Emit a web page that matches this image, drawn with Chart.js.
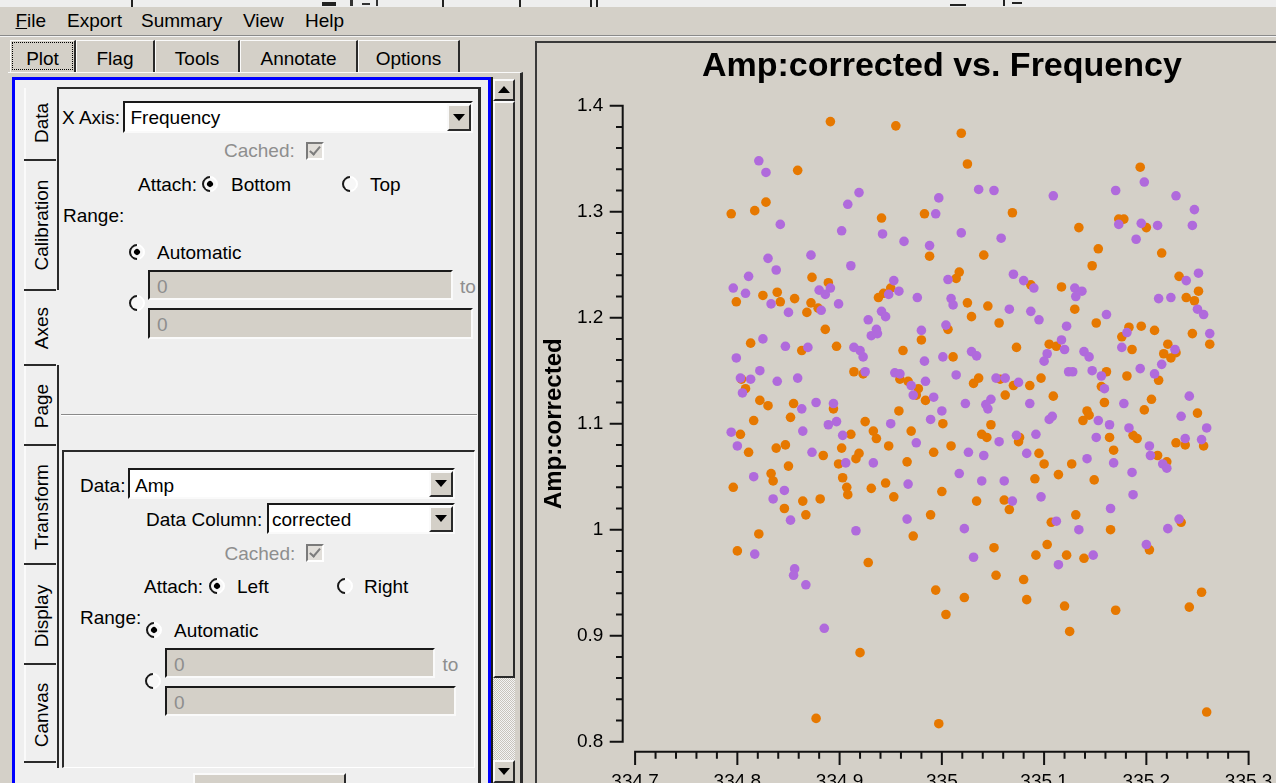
<!DOCTYPE html>
<html>
<head>
<meta charset="utf-8">
<script src="https://cdn.jsdelivr.net/npm/chart.js@4/dist/chart.umd.min.js"></script>
<style>
html,body{margin:0;padding:0;}
body{width:1276px;height:783px;overflow:hidden;position:relative;background:#d4d0c8;font-family:"Liberation Sans",Arial,sans-serif;}
.a{position:absolute;}
.t{position:absolute;font-size:19px;line-height:19px;white-space:nowrap;color:#000;}
.g{color:#8e8e8e;}
.sunk{position:absolute;box-sizing:border-box;border:2px solid;border-color:#1a1a1a #fafafa #fafafa #1a1a1a;}
.raised{position:absolute;box-sizing:border-box;border:2px solid;border-color:#fafafa #2a2a2a #2a2a2a #fafafa;background:#d4d0c8;}
.radio{position:absolute;width:16px;height:16px;box-sizing:border-box;border-radius:50%;border:2px solid;border-color:#1a1a1a #fff #fff #1a1a1a;transform:rotate(-45deg);background:#f7f7f7;}
.radio.on::after{content:"";position:absolute;left:3px;top:3px;width:6px;height:6px;border-radius:50%;background:#000;}
.chk{position:absolute;width:18px;height:18px;box-sizing:border-box;border:2px solid;border-color:#7a7a7a #fff #fff #7a7a7a;background:#e2dfda;}
.chk::after{content:"";position:absolute;left:4px;top:0px;width:4px;height:9px;border:solid #7d7d7d;border-width:0 2px 2px 0;transform:rotate(40deg);}
.arrow-d{position:absolute;width:0;height:0;border-left:6px solid transparent;border-right:6px solid transparent;border-top:7px solid #000;}
.arrow-u{position:absolute;width:0;height:0;border-left:6px solid transparent;border-right:6px solid transparent;border-bottom:7px solid #000;}
.vt{position:absolute;font-size:19px;line-height:19px;white-space:nowrap;transform:translate(-50%,-50%) rotate(-90deg);}
.tab{position:absolute;top:40px;height:32px;box-sizing:border-box;border-top:1px solid #fafafa;border-left:1px solid #fafafa;border-right:2px solid #2a2a2a;font-size:19px;line-height:19px;text-align:center;padding-top:8px;}
.sep{position:absolute;height:2px;background:#2a2a2a;}
</style>
</head>
<body>

<!-- strip left over from the window above -->
<div class="a" style="left:0;top:0;width:1276px;height:7px;background:#eeeeee;"></div>
<div class="a" style="left:131px;top:0;width:2px;height:7px;background:#222;"></div>
<div class="a" style="left:322px;top:2px;width:14px;height:4px;background:#222;"></div>
<div class="a" style="left:350px;top:0;width:3px;height:6px;background:#333;"></div>
<div class="a" style="left:362px;top:3px;width:8px;height:2px;background:#333;"></div>
<div class="a" style="left:376px;top:0;width:2px;height:6px;background:#333;"></div>
<div class="a" style="left:442px;top:0;width:2px;height:7px;background:#222;"></div>
<div class="a" style="left:519px;top:0;width:2px;height:7px;background:#222;"></div>
<div class="a" style="left:590px;top:0;width:2px;height:7px;background:#222;"></div>
<div class="a" style="left:596px;top:0;width:2px;height:7px;background:#222;"></div>
<div class="a" style="left:950px;top:4px;width:16px;height:2px;background:#222;"></div>
<div class="a" style="left:1003px;top:0;width:2px;height:6px;background:#222;"></div>
<div class="a" style="left:1012px;top:2px;width:10px;height:2px;background:#222;"></div>

<!-- menu bar -->
<div class="t" style="left:15.5px;top:11.4px;"><u>F</u>ile</div>
<div class="t" style="left:67px;top:11.4px;">Export</div>
<div class="t" style="left:141px;top:11.4px;">Summary</div>
<div class="t" style="left:243px;top:11.4px;">View</div>
<div class="t" style="left:305px;top:11.4px;">Help</div>
<div class="a" style="left:0;top:35px;width:1276px;height:1px;background:#8a8a8a;"></div>
<div class="a" style="left:0;top:36px;width:1276px;height:1px;background:#f4f4f4;"></div>

<!-- top tab row -->
<div class="tab" style="left:10px;width:66px;">Plot</div>
<div class="a" style="left:12px;top:42px;width:59px;height:26px;border:1px dotted #000;"></div>
<div class="tab" style="left:76px;width:79px;">Flag</div>
<div class="tab" style="left:155px;width:85px;">Tools</div>
<div class="tab" style="left:240px;width:118px;">Annotate</div>
<div class="tab" style="left:358px;width:102px;">Options</div>

<!-- left pane -->
<div class="a" style="left:8px;top:72px;width:515px;height:720px;box-sizing:border-box;border-top:1px solid #fafafa;border-right:3px solid #2a2a2a;background:#d4d0c8;"></div>
<div class="a" style="left:12px;top:77px;width:479px;height:720px;box-sizing:border-box;border:3px solid #0000ff;background:#efefef;"></div>

<!-- vertical page tabs -->
<div class="a" style="left:24px;top:88px;width:2px;height:674px;background:#fafafa;"></div>
<div class="sep" style="left:24px;top:159px;width:32px;"></div>
<div class="sep" style="left:24px;top:289px;width:32px;"></div>
<div class="sep" style="left:24px;top:364px;width:32px;"></div>
<div class="sep" style="left:24px;top:444px;width:32px;"></div>
<div class="sep" style="left:24px;top:563px;width:32px;"></div>
<div class="sep" style="left:24px;top:663px;width:32px;"></div>
<div class="sep" style="left:24px;top:761px;width:32px;"></div>
<div class="vt" style="left:40.6px;top:123px;">Data</div>
<div class="vt" style="left:40.6px;top:225px;">Calibration</div>
<div class="vt" style="left:40.6px;top:327.5px;">Axes</div>
<div class="vt" style="left:40.6px;top:406px;">Page</div>
<div class="vt" style="left:40.6px;top:507px;">Transform</div>
<div class="vt" style="left:40.6px;top:615.5px;">Display</div>
<div class="vt" style="left:40.6px;top:715px;">Canvas</div>

<!-- page frame -->
<div class="a" style="left:57px;top:87px;width:424px;height:2px;background:#2a2a2a;"></div>
<div class="a" style="left:57px;top:87px;width:2px;height:203px;background:#2a2a2a;"></div>
<div class="a" style="left:57px;top:365px;width:2px;height:403px;background:#2a2a2a;"></div>
<div class="a" style="left:478px;top:87px;width:3px;height:696px;background:#2a2a2a;"></div>

<!-- x axis settings -->
<div class="t" style="left:62px;top:107.7px;">X Axis:</div>
<div class="sunk" style="left:123px;top:101px;width:350px;height:32px;background:#fff;"></div>
<div class="t" style="left:130.5px;top:107.7px;">Frequency</div>
<div class="raised" style="left:447px;top:104px;width:24px;height:27px;"></div>
<div class="arrow-d" style="left:453px;top:114px;"></div>
<div class="t g" style="left:224px;top:141.4px;">Cached:</div>
<div class="chk" style="left:306px;top:142px;"></div>
<div class="t" style="left:138px;top:174.7px;">Attach:</div>
<div class="radio on" style="left:202px;top:176px;"></div>
<div class="t" style="left:231px;top:174.7px;">Bottom</div>
<div class="radio" style="left:342px;top:176px;"></div>
<div class="t" style="left:370px;top:174.7px;">Top</div>
<div class="t" style="left:63px;top:205.7px;">Range:</div>
<div class="radio on" style="left:129px;top:244px;"></div>
<div class="t" style="left:157px;top:242.7px;">Automatic</div>
<div class="sunk" style="left:148px;top:270px;width:305px;height:30px;background:#d4d0c8;"></div>
<div class="t g" style="left:157px;top:276.7px;">0</div>
<div class="t g" style="left:460px;top:276.7px;">to</div>
<div class="radio" style="left:128.5px;top:295px;"></div>
<div class="sunk" style="left:148px;top:308px;width:325px;height:31px;background:#d4d0c8;"></div>
<div class="t g" style="left:157px;top:314.7px;">0</div>
<div class="a" style="left:61px;top:414px;width:416px;height:1px;background:#8a8a8a;"></div>
<div class="a" style="left:61px;top:415px;width:416px;height:1px;background:#fff;"></div>

<!-- y axis settings group -->
<div class="a" style="left:62px;top:450px;width:413px;height:318px;box-sizing:border-box;border-top:2px solid #2a2a2a;border-left:2px solid #2a2a2a;border-right:1px solid #fff;border-bottom:1px solid #fff;"></div>
<div class="t" style="left:80px;top:475.7px;">Data:</div>
<div class="sunk" style="left:128px;top:468px;width:327px;height:31px;background:#fff;"></div>
<div class="t" style="left:135px;top:475.7px;">Amp</div>
<div class="raised" style="left:429px;top:471px;width:24px;height:26px;"></div>
<div class="arrow-d" style="left:435px;top:480px;"></div>
<div class="t" style="left:146px;top:509.7px;">Data Column:</div>
<div class="sunk" style="left:267px;top:503px;width:188px;height:31px;background:#fff;"></div>
<div class="t" style="left:272px;top:509.7px;">corrected</div>
<div class="raised" style="left:429px;top:506px;width:24px;height:26px;"></div>
<div class="arrow-d" style="left:435px;top:515px;"></div>
<div class="t g" style="left:224.5px;top:543.7px;">Cached:</div>
<div class="chk" style="left:306px;top:544px;"></div>
<div class="t" style="left:144px;top:576.7px;">Attach:</div>
<div class="radio on" style="left:209px;top:578px;"></div>
<div class="t" style="left:237px;top:576.7px;">Left</div>
<div class="radio" style="left:336.5px;top:578px;"></div>
<div class="t" style="left:364px;top:576.7px;">Right</div>
<div class="t" style="left:80px;top:607.7px;">Range:</div>
<div class="radio on" style="left:145.5px;top:622px;"></div>
<div class="t" style="left:174px;top:620.7px;">Automatic</div>
<div class="sunk" style="left:165px;top:648px;width:270px;height:30px;background:#d4d0c8;"></div>
<div class="t g" style="left:174px;top:654.7px;">0</div>
<div class="t g" style="left:442.5px;top:654.7px;">to</div>
<div class="radio" style="left:145px;top:673px;"></div>
<div class="sunk" style="left:165px;top:686px;width:291px;height:30px;background:#d4d0c8;"></div>
<div class="t g" style="left:174px;top:692.7px;">0</div>
<div class="raised" style="left:193px;top:773px;width:153px;height:20px;"></div>

<!-- scroll bar -->
<div class="a" style="left:491px;top:77px;width:24px;height:706px;box-sizing:border-box;border-left:2px solid #1a1a1a;background:#d4d0c8;"></div>
<div class="raised" style="left:493px;top:79px;width:22px;height:22px;"></div>
<div class="arrow-u" style="left:498px;top:86px;"></div>
<div class="raised" style="left:493px;top:101px;width:22px;height:577px;"></div>
<div class="a" style="left:493px;top:678px;width:22px;height:82px;background:repeating-conic-gradient(#c8c4bc 0 25%, #f4f4f4 0 50%) 0 0/2px 2px;"></div>
<div class="raised" style="left:493px;top:760px;width:22px;height:23px;"></div>
<div class="arrow-d" style="left:498px;top:768px;"></div>

<!-- plot panel -->
<div class="a" style="left:535px;top:41px;width:741px;height:742px;box-sizing:border-box;border-top:2px solid #3a3a3a;border-left:2px solid #3a3a3a;background:#d4d0c8;"></div>
<canvas id="plot" width="736" height="800" style="position:absolute;left:540px;top:44px;width:736px;height:800px;"></canvas>

<script>
// Axis ticks
const xTickLabels = ['334.7', '334.8', '334.9', '335', '335.1', '335.2', '335.3'];
const yTickLabels = ['0.8', '0.9', '1', '1.1', '1.2', '1.3', '1.4'];
const minorDivisions = 5;

// Orange correlation: frequency (GHz) and corrected amplitude
const freqOrange = [
  334.891, 334.955, 335.019, 335.025, 334.859, 334.828, 334.817, 334.794, 334.941, 334.983,
  334.988, 334.873, 334.889, 335.017, 335.014, 334.839, 334.825, 334.799, 334.842, 334.856,
  334.872, 334.868, 334.950, 334.938, 334.943, 335.025, 334.879, 335.194, 335.069, 335.134,
  335.173, 335.178, 335.200, 335.153, 335.041, 335.147, 335.215, 335.232, 335.251, 335.239,
  335.247, 335.087, 335.117, 335.045, 335.130, 335.029, 334.886, 334.813, 334.863, 334.897,
  334.962, 334.980, 335.006, 335.011, 334.914, 334.923, 334.804, 334.808, 334.959, 334.967,
  334.977, 334.975, 334.984, 334.822, 334.830, 334.855, 334.894, 334.852, 334.816, 334.958,
  335.001, 334.925, 334.933, 334.936, 334.970, 334.803, 334.911, 334.847, 334.838, 334.811,
  334.902, 334.884, 334.919, 334.916, 334.899, 334.948, 334.992, 335.009, 334.966, 334.850,
  334.833, 334.835, 334.796, 334.903, 334.907, 334.908, 334.931, 334.945, 334.953, 335.000,
  334.864, 334.881, 334.846, 334.867, 334.989, 334.821, 334.972, 335.056, 335.151, 335.183,
  335.195, 335.208, 335.176, 335.245, 335.262, 335.073, 335.105, 335.112, 335.186, 335.221,
  335.217, 335.229, 335.224, 335.161, 335.181, 335.212, 335.036, 335.031, 335.057, 335.070,
  335.086, 335.097, 335.062, 335.109, 335.156, 335.159, 335.205, 335.198, 335.250, 335.142,
  335.144, 335.138, 335.048, 335.039, 335.044, 335.076, 335.075, 335.164, 335.187, 335.191,
  335.229, 335.238, 335.256, 335.168, 335.095, 335.100, 335.127, 335.211, 335.220, 335.114,
  335.091, 335.149, 335.034, 335.061, 335.066, 335.131, 335.107, 335.165, 335.234, 334.800,
  334.928, 334.994, 335.022, 335.004, 334.920, 334.877, 334.997, 335.051, 335.103, 335.092,
  335.122, 335.139, 335.203, 335.053, 335.080, 335.083, 335.120, 335.170, 335.254, 335.242,
  335.125, 335.259
];
const ampOrange = [
  1.385, 1.381, 1.374, 1.345, 1.339, 1.309, 1.301, 1.298, 1.294, 1.298,
  1.258, 1.238, 1.233, 1.243, 1.237, 1.224, 1.221, 1.215, 1.215, 1.218,
  1.214, 1.205, 1.228, 1.219, 1.223, 1.214, 1.209, 1.342, 1.299, 1.285,
  1.293, 1.293, 1.285, 1.265, 1.259, 1.249, 1.261, 1.239, 1.225, 1.219,
  1.216, 1.231, 1.229, 1.211, 1.208, 1.201, 1.189, 1.176, 1.169, 1.173,
  1.169, 1.179, 1.189, 1.163, 1.149, 1.147, 1.142, 1.133, 1.142, 1.140,
  1.133, 1.127, 1.122, 1.122, 1.117, 1.119, 1.114, 1.106, 1.103, 1.112,
  1.100, 1.102, 1.093, 1.086, 1.093, 1.090, 1.090, 1.080, 1.077, 1.073,
  1.077, 1.070, 1.072, 1.067, 1.062, 1.079, 1.073, 1.079, 1.064, 1.060,
  1.053, 1.046, 1.040, 1.049, 1.040, 1.033, 1.039, 1.044, 1.031, 1.036,
  1.027, 1.029, 1.020, 1.014, 1.014, 0.996, 0.994, 1.195, 1.195, 1.191,
  1.192, 1.188, 1.182, 1.185, 1.175, 1.172, 1.175, 1.173, 1.170, 1.175,
  1.166, 1.167, 1.162, 1.149, 1.145, 1.141, 1.143, 1.138, 1.142, 1.136,
  1.136, 1.143, 1.127, 1.126, 1.135, 1.120, 1.123, 1.113, 1.110, 1.112,
  1.108, 1.103, 1.099, 1.090, 1.087, 1.087, 1.083, 1.087, 1.089, 1.086,
  1.082, 1.080, 1.079, 1.075, 1.072, 1.062, 1.062, 1.070, 1.064, 1.052,
  1.048, 1.047, 1.027, 1.028, 1.019, 1.014, 1.007, 1.000, 1.007, 0.980,
  0.969, 0.943, 0.936, 0.920, 0.884, 0.822, 0.817, 0.983, 0.986, 0.976,
  0.976, 0.973, 0.981, 0.957, 0.953, 0.934, 0.928, 0.924, 0.941, 0.927,
  0.904, 0.828
];

// Purple correlation: frequency (GHz) and corrected amplitude
const freqPurple = [
  334.821, 334.828, 334.919, 334.908, 334.997, 334.994, 334.842, 334.902, 334.942, 334.963,
  334.988, 335.019, 334.830, 334.872, 334.838, 334.911, 334.811, 334.796, 334.808, 334.833,
  334.850, 334.880, 334.891, 334.886, 334.899, 334.882, 334.953, 334.958, 334.948, 334.976,
  334.941, 334.928, 334.945, 335.006, 335.009, 335.011, 335.036, 335.051, 335.109, 335.170,
  335.198, 335.229, 335.247, 335.245, 335.211, 335.195, 335.173, 335.190, 335.058, 335.070,
  335.080, 335.090, 335.130, 335.137, 335.131, 335.251, 335.239, 335.212, 335.224, 335.250,
  335.256, 335.066, 335.087, 335.161, 335.095, 334.936, 334.931, 334.937, 334.825, 334.847,
  334.869, 334.914, 334.920, 334.923, 334.980, 335.004, 334.799, 334.983, 335.001, 335.029,
  335.034, 334.822, 334.925, 334.954, 334.959, 334.803, 334.813, 334.839, 334.859, 334.984,
  335.014, 334.970, 334.972, 334.805, 334.992, 334.877, 334.894, 334.863, 335.023, 335.000,
  334.989, 334.950, 334.889, 334.897, 334.864, 334.903, 334.794, 334.800, 334.975, 335.026,
  334.873, 334.906, 334.933, 334.816, 335.017, 334.967, 334.846, 334.835, 334.852, 334.966,
  334.916, 335.022, 335.122, 335.181, 335.262, 335.117, 335.120, 335.176, 335.103, 335.100,
  335.139, 335.144, 335.228, 335.215, 335.208, 335.194, 335.147, 335.124, 335.128, 335.156,
  335.159, 335.053, 335.062, 335.075, 335.048, 335.043, 335.045, 335.086, 335.178, 335.242,
  335.234, 335.259, 335.105, 335.108, 335.153, 335.164, 335.183, 335.151, 335.092, 335.073,
  335.056, 335.238, 335.254, 335.203, 335.204, 335.041, 335.083, 335.142, 335.168, 335.216,
  335.220, 335.186, 335.039, 335.061, 335.097, 335.187, 335.069, 335.165, 335.112, 335.134,
  335.221, 335.232, 334.817, 334.856, 334.855, 334.867, 334.885, 335.031, 335.114, 335.148,
  335.200
];
const ampPurple = [
  1.348, 1.337, 1.318, 1.307, 1.313, 1.298, 1.288, 1.282, 1.279, 1.272,
  1.268, 1.280, 1.256, 1.259, 1.245, 1.249, 1.239, 1.228, 1.223, 1.213,
  1.205, 1.226, 1.228, 1.222, 1.213, 1.207, 1.235, 1.225, 1.222, 1.219,
  1.206, 1.198, 1.201, 1.236, 1.218, 1.212, 1.321, 1.320, 1.315, 1.320,
  1.328, 1.315, 1.302, 1.287, 1.287, 1.289, 1.288, 1.274, 1.275, 1.241,
  1.235, 1.228, 1.228, 1.225, 1.220, 1.242, 1.235, 1.218, 1.219, 1.208,
  1.203, 1.208, 1.206, 1.203, 1.198, 1.189, 1.183, 1.185, 1.180, 1.173,
  1.172, 1.172, 1.169, 1.163, 1.188, 1.193, 1.162, 1.159, 1.163, 1.168,
  1.164, 1.150, 1.149, 1.148, 1.147, 1.143, 1.142, 1.140, 1.143, 1.140,
  1.146, 1.136, 1.127, 1.129, 1.125, 1.120, 1.119, 1.114, 1.119, 1.112,
  1.104, 1.100, 1.099, 1.102, 1.093, 1.089, 1.092, 1.079, 1.082, 1.073,
  1.073, 1.063, 1.063, 1.050, 1.053, 1.043, 1.037, 1.029, 1.009, 1.010,
  0.999, 1.001, 1.192, 1.186, 1.185, 1.179, 1.170, 1.172, 1.166, 1.159,
  1.168, 1.163, 1.170, 1.156, 1.147, 1.152, 1.150, 1.149, 1.149, 1.145,
  1.133, 1.143, 1.143, 1.139, 1.123, 1.118, 1.114, 1.119, 1.119, 1.126,
  1.107, 1.096, 1.104, 1.107, 1.103, 1.099, 1.096, 1.087, 1.090, 1.089,
  1.083, 1.086, 1.085, 1.079, 1.070, 1.070, 1.072, 1.067, 1.063, 1.062,
  1.058, 1.054, 1.046, 1.046, 1.031, 1.033, 1.027, 1.020, 1.008, 1.000,
  1.001, 1.010, 0.977, 0.963, 0.957, 0.948, 0.907, 0.974, 0.967, 0.976,
  0.986
];

const ORANGE = '#e67800';
const PURPLE = '#b06adc';
const FONT = '"Liberation Sans", Arial, sans-serif';

// Major tick values come from the labels; minor ticks split each interval in five.
function tickValues(labels) {
  const majors = labels.map(Number);
  const out = [];
  for (let i = 0; i < majors.length - 1; i++) {
    const step = (majors[i + 1] - majors[i]) / minorDivisions;
    for (let k = 0; k < minorDivisions; k++) {
      out.push({ value: majors[i] + k * step, qwtMajor: k === 0 });
    }
  }
  out.push({ value: majors[majors.length - 1], qwtMajor: true });
  return out;
}
function labelFor(value, labels) {
  const hit = labels.find(l => Math.abs(Number(l) - value) < 1e-6);
  return hit === undefined ? '' : hit;
}
const xMin = Number(xTickLabels[0]), xMax = Number(xTickLabels[xTickLabels.length - 1]);
const yMin = Number(yTickLabels[0]), yMax = Number(yTickLabels[yTickLabels.length - 1]);

// Axis backbones sit a little away from the canvas, with long major and short minor ticks.
const detachedAxes = {
  id: 'detachedAxes',
  afterDraw(chart) {
    const { ctx, chartArea: area, scales: { x, y } } = chart;
    const axisX = area.left - 12.4;
    const axisY = area.bottom + 10;
    ctx.save();
    ctx.strokeStyle = '#111';
    ctx.lineWidth = 2;
    ctx.beginPath();
    ctx.moveTo(axisX, y.getPixelForValue(yMax) - 1);
    ctx.lineTo(axisX, y.getPixelForValue(yMin) + 1);
    y.ticks.forEach(t => {
      const p = y.getPixelForValue(t.value);
      ctx.moveTo(axisX - (t.qwtMajor ? 13 : 6.7), p);
      ctx.lineTo(axisX, p);
    });
    ctx.moveTo(x.getPixelForValue(xMin) - 1, axisY);
    ctx.lineTo(x.getPixelForValue(xMax) + 1, axisY);
    x.ticks.forEach(t => {
      const p = x.getPixelForValue(t.value);
      ctx.moveTo(p, axisY);
      ctx.lineTo(p, axisY + (t.qwtMajor ? 13.3 : 7));
    });
    ctx.stroke();
    ctx.restore();
  }
};

const pts = (fs, as) => fs.map((f, i) => ({ x: f, y: as[i] }));

new Chart(document.getElementById('plot'), {
  type: 'scatter',
  data: {
    datasets: [
      { label: 'Purple', data: pts(freqPurple, ampPurple), backgroundColor: PURPLE,
        pointRadius: 4.8, pointHoverRadius: 4.8, pointBorderWidth: 0, order: 0 },
      { label: 'Orange', data: pts(freqOrange, ampOrange), backgroundColor: ORANGE,
        pointRadius: 4.8, pointHoverRadius: 4.8, pointBorderWidth: 0, order: 1 }
    ]
  },
  options: {
    responsive: false,
    animation: false,
    events: [],
    layout: { padding: { left: 0, right: 27.4, top: 0, bottom: 0 } },
    plugins: {
      legend: { display: false },
      tooltip: { enabled: false },
      title: {
        display: true,
        text: 'Amp:corrected vs. Frequency',
        fullSize: false,
        color: '#000',
        font: { family: FONT, size: 34, weight: 'bold' },
        padding: { top: 2, bottom: 18.9 }
      }
    },
    scales: {
      x: {
        type: 'linear',
        min: xMin, max: xMax,
        grid: { display: false, drawTicks: false },
        border: { display: false },
        afterBuildTicks: s => { s.ticks = tickValues(xTickLabels); },
        afterFit: s => { s.height = 102.3; s.paddingLeft = 0; s.paddingRight = 0; },
        ticks: {
          autoSkip: false, maxRotation: 0, minRotation: 0, padding: 28.9, color: '#000',
          font: { family: FONT, size: 19 },
          callback: v => labelFor(v, xTickLabels)
        }
      },
      y: {
        type: 'linear',
        min: yMin, max: yMax,
        grid: { display: false, drawTicks: false },
        border: { display: false },
        afterBuildTicks: s => { s.ticks = tickValues(yTickLabels); },
        afterFit: s => { s.width = 95.1; s.paddingTop = 0; s.paddingBottom = 0; },
        title: {
          display: true, text: 'Amp:corrected', color: '#000',
          font: { family: FONT, size: 24, weight: 'bold' },
          padding: { top: 0, bottom: 0 }
        },
        ticks: {
          autoSkip: false, padding: 31.8, color: '#000',
          font: { family: FONT, size: 19 },
          callback: v => labelFor(v, yTickLabels)
        }
      }
    }
  },
  plugins: [detachedAxes]
});
</script>
</body>
</html>
